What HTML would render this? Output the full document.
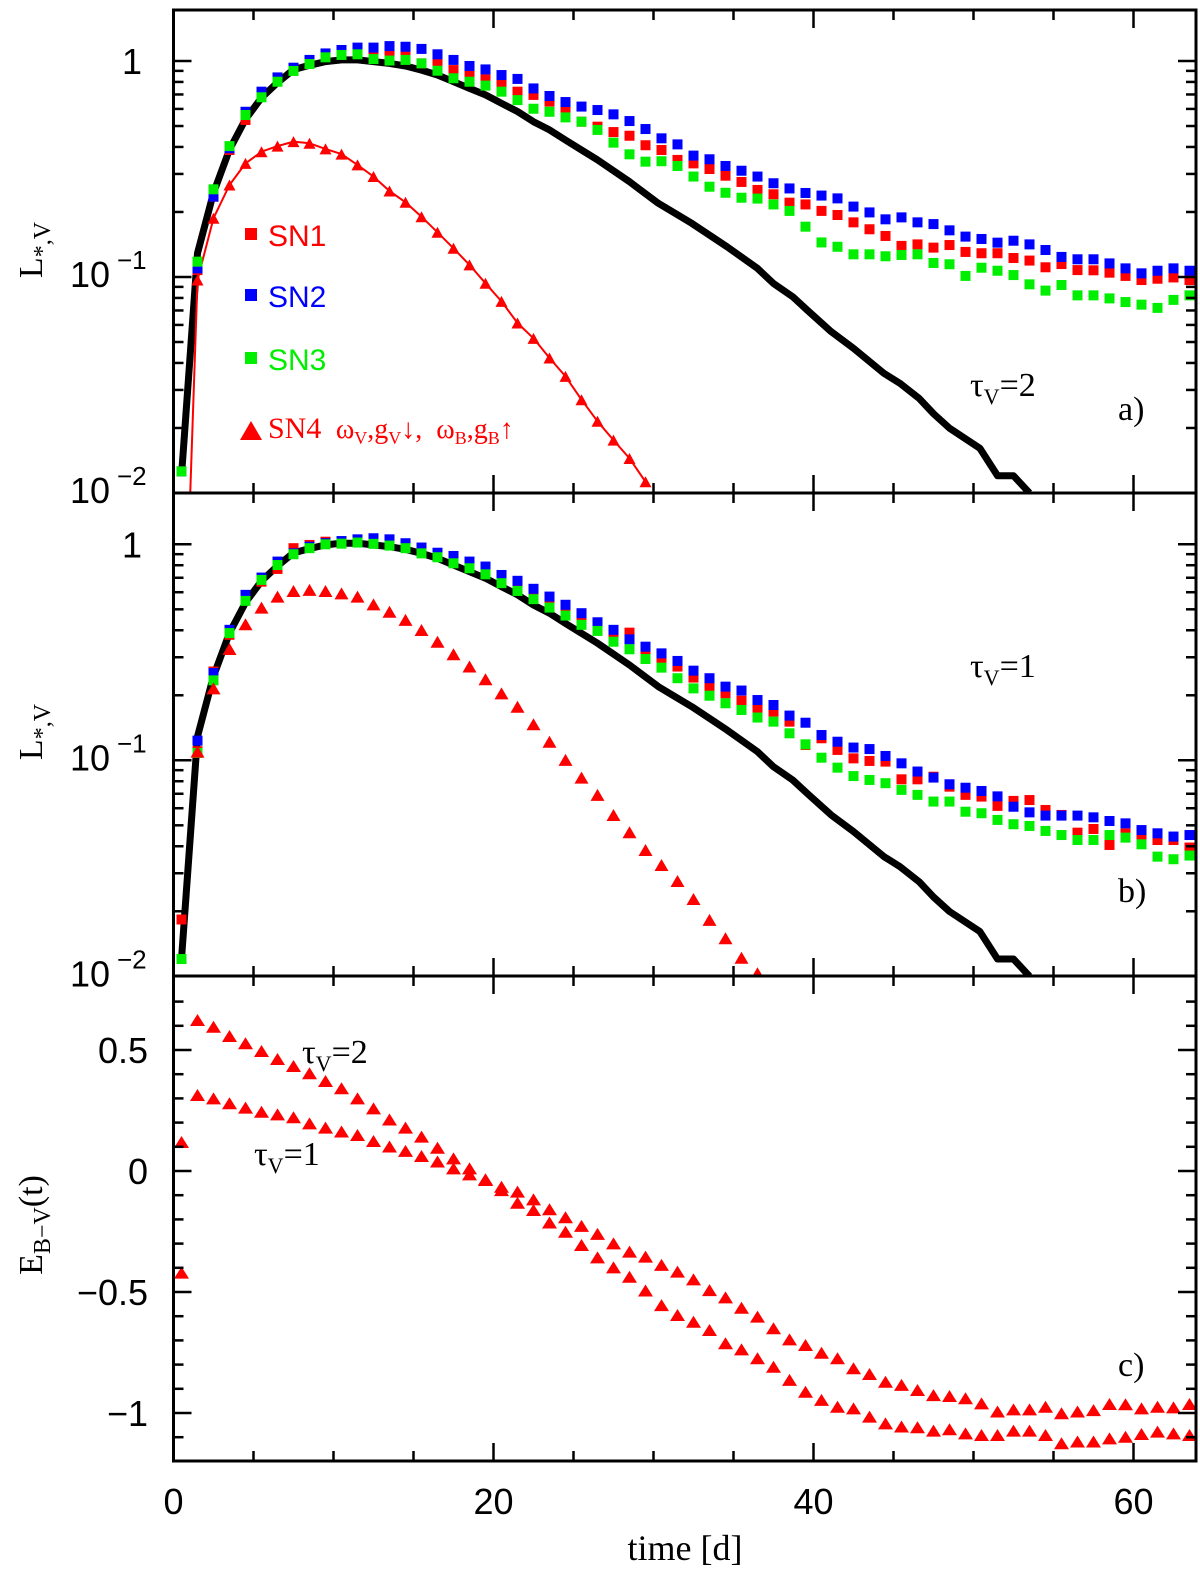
<!DOCTYPE html>
<html><head><meta charset="utf-8"><title>SN light curves</title>
<style>
html,body{margin:0;padding:0;background:#fff;}
svg{display:block;}
.tl{font-family:"Liberation Sans",sans-serif;font-size:36px;fill:#000;}
.sup{font-family:"Liberation Sans",sans-serif;font-size:26px;fill:#000;}
.ti{font-family:"Liberation Serif",serif;fill:#000;}
</style></head>
<body>
<svg id="chart" width="1200" height="1570" viewBox="0 0 1200 1570" xmlns="http://www.w3.org/2000/svg">
<defs>
<clipPath id="clipA"><rect x="173.5" y="10" width="1022.5" height="483"/></clipPath>
<clipPath id="clipB"><rect x="173.5" y="493" width="1022.5" height="483"/></clipPath>
<clipPath id="clipC"><rect x="173.5" y="976" width="1022.5" height="485"/></clipPath>
</defs>
<g id="gA"></g>
<g id="gB"></g>
<g id="gC"></g>
<g id="axes"></g>

<text class="ti" font-size="34" transform="translate(42,250) rotate(-90)" text-anchor="middle">L<tspan font-size="24" dy="8">*,V</tspan></text>
<text class="ti" font-size="34" transform="translate(42,732) rotate(-90)" text-anchor="middle">L<tspan font-size="24" dy="8">*,V</tspan></text>
<text class="ti" font-size="34" transform="translate(42,1225) rotate(-90)" text-anchor="middle">E<tspan font-size="24" dy="8">B−V</tspan><tspan dy="-8">(t)</tspan></text>
<text class="ti" font-size="36" x="685" y="1560" text-anchor="middle">time [d]</text>

<g>
<rect x="245" y="228" width="12" height="12" fill="#ff0000"/>
<text class="tl" x="268" y="246" font-size="30" fill="#ff0000" style="fill:#ff0000;font-size:30px">SN1</text>
<rect x="245" y="289" width="12" height="12" fill="#0000ff"/>
<text class="tl" x="268" y="307" style="fill:#0000ff;font-size:30px">SN2</text>
<rect x="245" y="352" width="12" height="12" fill="#00ee00"/>
<text class="tl" x="268" y="370" style="fill:#00ee00;font-size:30px">SN3</text>
<polygon points="243,439 251,424 259,439" fill="#ff0000"/>
<polygon points="240,440 251,421 262,440" fill="#ff0000"/>
<text class="ti" x="268" y="438" style="fill:#ff0000;font-size:30px">SN4 <tspan font-size="28">&#160;ω</tspan><tspan font-size="18" dy="6">V</tspan><tspan dy="-6" font-size="28">,g</tspan><tspan font-size="18" dy="6">V</tspan><tspan dy="-6" font-size="28">↓, &#160;ω</tspan><tspan font-size="18" dy="6">B</tspan><tspan dy="-6" font-size="28">,g</tspan><tspan font-size="18" dy="6">B</tspan><tspan dy="-6" font-size="28">↑</tspan></text>
</g>

<text class="ti" x="970" y="396" font-size="34">τ<tspan font-size="22" dy="8">V</tspan><tspan dy="-8">=2</tspan></text>
<text class="ti" x="1118" y="420" font-size="34">a)</text>
<text class="ti" x="970" y="677" font-size="34">τ<tspan font-size="22" dy="8">V</tspan><tspan dy="-8">=1</tspan></text>
<text class="ti" x="1118" y="902" font-size="34">b)</text>
<text class="ti" x="302" y="1063" font-size="34">τ<tspan font-size="22" dy="8">V</tspan><tspan dy="-8">=2</tspan></text>
<text class="ti" x="254" y="1165" font-size="34">τ<tspan font-size="22" dy="8">V</tspan><tspan dy="-8">=1</tspan></text>
<text class="ti" x="1118" y="1376" font-size="34">c)</text>
</svg>
<script>
// ---- data ----
const tDays = [0.5,1.5,2.5,3.5,4.5,5.5,6.5,7.5,8.5,9.5,10.5,11.5,12.5,13.5,14.5,15.5,16.5,17.5,18.5,19.5,20.5,21.5,22.5,23.5,24.5,25.5,26.5,27.5,28.5,29.5,30.5,31.5,32.5,33.5,34.5,35.5,36.5,37.5,38.5,39.5,40.5,41.5,42.5,43.5,44.5,45.5,46.5,47.5,48.5,49.5,50.5,51.5,52.5,53.5,54.5,55.5,56.5,57.5,58.5,59.5,60.5,61.5,62.5,63.5];
// black (no-dust) curve, log10 L
const blackT = [0.5,1.5,2.5,3.5,4.5,5.5,6.5,7.5,8.5,9.5,10.5,11.5,12.5,13.5,14.5,15.5,16.5,17.5,18.5,19.5,20.5,21.5,22.5,23.5,24.5,25.5,26.5,28.5,30.3,32.4,34.6,36.5,37.5,38.7,39.6,41.1,42.5,44.4,45.4,46.6,47.5,48.5,50.4,51.5,52.5,53.5];
const blackLog = [-1.92,-0.89,-0.61,-0.41,-0.27,-0.17,-0.10,-0.04,-0.02,-0.003,0.005,0.005,-0.003,-0.011,-0.023,-0.042,-0.065,-0.096,-0.127,-0.157,-0.196,-0.234,-0.281,-0.319,-0.366,-0.412,-0.458,-0.559,-0.659,-0.752,-0.86,-0.96,-1.03,-1.091,-1.153,-1.253,-1.33,-1.446,-1.492,-1.562,-1.633,-1.70,-1.793,-1.92,-1.92,-2.0];
// panel a (tau_V = 2), log10 L
const sn1LogA = [-1.90,-0.968,-0.628,-0.412,-0.273,-0.157,-0.088,-0.039,-0.005,0.023,0.035,0.048,0.035,0.035,0.028,-0.011,-0.014,-0.042,-0.069,-0.085,-0.111,-0.142,-0.157,-0.188,-0.235,-0.281,-0.304,-0.329,-0.346,-0.390,-0.412,-0.458,-0.474,-0.500,-0.531,-0.560,-0.597,-0.617,-0.656,-0.664,-0.694,-0.713,-0.747,-0.779,-0.810,-0.856,-0.849,-0.864,-0.852,-0.884,-0.890,-0.890,-0.912,-0.924,-0.955,-0.940,-0.968,-0.969,-0.980,-0.995,-1.014,-1.008,-1.002,-1.014];
const sn2LogA = [-1.90,-0.96,-0.628,-0.404,-0.235,-0.142,-0.076,-0.031,0.005,0.035,0.051,0.062,0.062,0.069,0.066,0.056,0.031,0.005,-0.023,-0.039,-0.065,-0.083,-0.127,-0.162,-0.190,-0.211,-0.227,-0.247,-0.278,-0.315,-0.358,-0.386,-0.438,-0.455,-0.486,-0.508,-0.535,-0.566,-0.590,-0.611,-0.623,-0.636,-0.674,-0.701,-0.733,-0.724,-0.747,-0.755,-0.784,-0.813,-0.824,-0.841,-0.832,-0.849,-0.875,-0.907,-0.918,-0.918,-0.937,-0.960,-0.983,-0.971,-0.960,-0.971];
const sn3LogA = [-1.90,-0.929,-0.594,-0.394,-0.25,-0.168,-0.096,-0.046,-0.014,0.017,0.028,0.031,0.009,0.002,0.005,-0.011,-0.045,-0.080,-0.096,-0.114,-0.142,-0.181,-0.221,-0.235,-0.261,-0.281,-0.319,-0.378,-0.432,-0.466,-0.464,-0.486,-0.535,-0.582,-0.610,-0.633,-0.637,-0.664,-0.694,-0.767,-0.840,-0.860,-0.895,-0.895,-0.904,-0.898,-0.895,-0.935,-0.941,-0.995,-0.957,-0.971,-0.991,-1.034,-1.063,-1.037,-1.085,-1.085,-1.099,-1.116,-1.128,-1.143,-1.106,-1.085];
const sn4TA = [1.5,2.5,3.5,4.5,5.5,6.5,7.5,8.5,9.5,10.5,11.5,12.5,13.5,14.5,15.5,16.5,17.5,18.5,19.5,20.5,21.5,22.5,23.5,24.5,25.5,26.5,27.5,28.5,29.5];
const sn4LogA = [-1.014,-0.728,-0.574,-0.474,-0.420,-0.394,-0.373,-0.381,-0.407,-0.431,-0.481,-0.535,-0.602,-0.654,-0.721,-0.793,-0.867,-0.944,-1.029,-1.113,-1.213,-1.284,-1.375,-1.460,-1.568,-1.668,-1.755,-1.840,-1.948];
const sn4LineStart = [1.0,-2.1];
// panel b (tau_V = 1), log10 L
const sn1LogB = [-1.737,-0.958,-0.589,-0.419,-0.250,-0.173,-0.114,-0.018,-0.003,0.012,0.005,0.012,0.005,-0.003,-0.015,-0.034,-0.057,-0.080,-0.103,-0.134,-0.165,-0.208,-0.234,-0.280,-0.314,-0.350,-0.396,-0.427,-0.409,-0.489,-0.528,-0.566,-0.617,-0.664,-0.690,-0.724,-0.764,-0.775,-0.821,-0.929,-0.898,-0.952,-0.991,-1.003,-1.006,-1.088,-1.088,-1.076,-1.122,-1.160,-1.168,-1.211,-1.188,-1.184,-1.230,-1.253,-1.335,-1.318,-1.392,-1.338,-1.366,-1.369,-1.369,-1.404];
const sn2LogB = [-1.92,-0.909,-0.596,-0.396,-0.234,-0.154,-0.080,-0.042,-0.011,0.005,0.015,0.023,0.028,0.023,0.005,-0.015,-0.039,-0.054,-0.080,-0.103,-0.142,-0.169,-0.206,-0.242,-0.280,-0.319,-0.361,-0.396,-0.440,-0.474,-0.505,-0.540,-0.585,-0.620,-0.659,-0.677,-0.721,-0.744,-0.793,-0.826,-0.883,-0.914,-0.941,-0.948,-0.980,-1.014,-1.052,-1.080,-1.111,-1.127,-1.142,-1.167,-1.215,-1.241,-1.256,-1.256,-1.256,-1.264,-1.281,-1.292,-1.323,-1.338,-1.353,-1.346];
const sn3LogB = [-1.92,-0.966,-0.630,-0.411,-0.262,-0.165,-0.096,-0.046,-0.018,0.0,0.003,0.008,0.002,-0.006,-0.018,-0.042,-0.060,-0.088,-0.111,-0.139,-0.180,-0.216,-0.254,-0.293,-0.330,-0.373,-0.401,-0.451,-0.486,-0.531,-0.571,-0.620,-0.667,-0.701,-0.736,-0.767,-0.802,-0.821,-0.875,-0.926,-0.988,-1.034,-1.073,-1.091,-1.106,-1.137,-1.160,-1.191,-1.191,-1.238,-1.245,-1.276,-1.296,-1.304,-1.327,-1.346,-1.369,-1.369,-1.346,-1.358,-1.389,-1.446,-1.458,-1.441];
const sn4TB = [1.5,2.5,3.5,4.5,5.5,6.5,7.5,8.5,9.5,10.5,11.5,12.5,13.5,14.5,15.5,16.5,17.5,18.5,19.5,20.5,21.5,22.5,23.5,24.5,25.5,26.5,27.5,28.5,29.5,30.5,31.5,32.5,33.5,34.5,35.5,36.5];
const sn4LogB = [-0.960,-0.667,-0.485,-0.370,-0.293,-0.242,-0.216,-0.211,-0.216,-0.227,-0.242,-0.278,-0.312,-0.350,-0.397,-0.451,-0.509,-0.566,-0.625,-0.690,-0.752,-0.833,-0.914,-0.998,-1.080,-1.160,-1.253,-1.333,-1.415,-1.485,-1.559,-1.642,-1.739,-1.824,-1.914,-1.986];
// panel c, E(B-V)
const ebvTau2 = [0.12,0.624,0.596,0.558,0.528,0.496,0.463,0.434,0.404,0.372,0.342,0.300,0.259,0.213,0.179,0.142,0.096,0.052,0.011,-0.034,-0.065,-0.085,-0.117,-0.158,-0.191,-0.227,-0.260,-0.299,-0.333,-0.354,-0.388,-0.416,-0.448,-0.492,-0.522,-0.565,-0.602,-0.650,-0.696,-0.719,-0.751,-0.774,-0.815,-0.839,-0.871,-0.884,-0.905,-0.926,-0.930,-0.939,-0.960,-0.994,-0.985,-0.985,-0.974,-1.001,-0.994,-0.988,-0.963,-0.964,-0.981,-0.974,-0.977,-0.963];
const ebvTau1 = [-0.42,0.314,0.300,0.280,0.262,0.245,0.234,0.222,0.197,0.179,0.163,0.149,0.124,0.101,0.083,0.062,0.039,0.011,-0.014,-0.037,-0.079,-0.131,-0.161,-0.213,-0.251,-0.306,-0.357,-0.398,-0.437,-0.494,-0.554,-0.595,-0.623,-0.657,-0.712,-0.737,-0.774,-0.809,-0.863,-0.912,-0.946,-0.974,-0.981,-1.015,-1.043,-1.056,-1.059,-1.073,-1.067,-1.084,-1.091,-1.091,-1.073,-1.073,-1.091,-1.125,-1.118,-1.118,-1.105,-1.098,-1.087,-1.077,-1.084,-1.091];
const xTickLabels = ["0","20","40","60"];
const xTickVals = [0,20,40,60];
const cTickVals = [0.5,0,-0.5,-1];
const cTickLabels = ["0.5","0","−0.5","−1"];

// ---- axes functions ----
const X0 = 173.5, XR = 1196, PX = 16.0;
const x = t => X0 + t * PX;
const yA = lg => 61 - lg * 216;
const yB = lg => 544.3 - lg * 216;
const yC = e => 1171 - e * 242;
const NS = "http://www.w3.org/2000/svg";
function mk(tag, attrs, parent) {
  const el = document.createElementNS(NS, tag);
  for (const k in attrs) el.setAttribute(k, attrs[k]);
  parent.appendChild(el);
  return el;
}
const COL = {sn1:"#ff0000", sn2:"#0000ff", sn3:"#00ee00"};

function squares(g, ts, vals, yf, color, name) {
  const grp = mk("g", {}, g);
  
  
  vals.forEach((v, i) => {
    const r = mk("rect", {x: x(ts[i]) - 5, y: yf(v) - 5, width: 10, height: 10, fill: color}, grp);
    
    
  });
}
function triangles(g, ts, vals, yf, name, w, h) {
  const grp = mk("g", {}, g);
  
  
  vals.forEach((v, i) => {
    const cx = x(ts[i]), cy = yf(v);
    const p = mk("polygon", {points: `${cx - w/2},${cy + h/2} ${cx},${cy - h/2} ${cx + w/2},${cy + h/2}`, fill: "#ff0000"}, grp);
    
    
  });
}
function line(g, ts, vals, yf, color, width, name) {
  const d = vals.map((v, i) => (i ? "L" : "M") + x(ts[i]).toFixed(1) + "," + yf(v).toFixed(1)).join("");
  const p = mk("path", {d: d, fill: "none", stroke: color, "stroke-width": width, "stroke-linejoin": "round"}, g);
  
  
  return p;
}

// ---- panel a ----
const gA = document.getElementById("gA");
const cA = mk("g", {"clip-path": "url(#clipA)"}, gA);
line(cA, blackT, blackLog, yA, "#000", 7, "no-dust-curve-a");
line(cA, [sn4LineStart[0]].concat(sn4TA), [sn4LineStart[1]].concat(sn4LogA), yA, "#ff0000", 2, "sn4-line-a");
squares(cA, tDays, sn1LogA, yA, COL.sn1, "sn1-series-a");
squares(cA, tDays, sn2LogA, yA, COL.sn2, "sn2-series-a");
squares(cA, tDays, sn3LogA, yA, COL.sn3, "sn3-series-a");
triangles(cA, sn4TA, sn4LogA, yA, "sn4-series-a", 12, 11);

// ---- panel b ----
const gB = document.getElementById("gB");
const cB = mk("g", {"clip-path": "url(#clipB)"}, gB);
line(cB, blackT, blackLog, yB, "#000", 7, "no-dust-curve-b");
squares(cB, tDays, sn1LogB, yB, COL.sn1, "sn1-series-b");
squares(cB, tDays, sn2LogB, yB, COL.sn2, "sn2-series-b");
squares(cB, tDays, sn3LogB, yB, COL.sn3, "sn3-series-b");
triangles(cB, sn4TB, sn4LogB, yB, "sn4-series-b", 14, 12);

// ---- panel c ----
const gC = document.getElementById("gC");
const cC = mk("g", {"clip-path": "url(#clipC)"}, gC);
triangles(cC, tDays, ebvTau2, yC, "ebv-tau2-series", 15, 12);
triangles(cC, tDays, ebvTau1, yC, "ebv-tau1-series", 15, 12);

// ---- axes, ticks ----
const ax = document.getElementById("axes");
const frames = [[10,493],[493,976],[976,1461]];
frames.forEach((f, k) => {
  const r = mk("rect", {x: X0, y: f[0], width: XR - X0, height: f[1] - f[0], fill: "none", stroke: "#000", "stroke-width": 3}, ax);
  
  
  for (let t = 0; t <= 63; t += 5) {
    const L = (t % 20 === 0) ? 18 : 10;
    mk("line", {x1: x(t), x2: x(t), y1: f[1], y2: f[1] - L, stroke: "#000", "stroke-width": 2.5}, ax);
    mk("line", {x1: x(t), x2: x(t), y1: f[0], y2: f[0] + L, stroke: "#000", "stroke-width": 2.5}, ax);
  }
});
function yTick(y, L) {
  mk("line", {x1: X0, x2: X0 + L, y1: y, y2: y, stroke: "#000", "stroke-width": 2.5}, ax);
  mk("line", {x1: XR, x2: XR - L, y1: y, y2: y, stroke: "#000", "stroke-width": 2.5}, ax);
}
[yA, yB].forEach((yf, k) => {
  const top = k ? 493 : 10, bot = k ? 976 : 493;
  for (let d = -2; d <= 0; d++) {
    for (let m = 1; m <= 9; m++) {
      const y = yf(d + Math.log10(m));
      if (y < top + 1 || y > bot - 1) continue;
      yTick(y, m === 1 ? 18 : 10);
    }
  }
  // tick labels
  const t1 = mk("text", {x: 142, y: yf(0) + 13, "text-anchor": "end", class: "tl"}, ax);
  t1.textContent = "1";
  
  
  [-1, -2].forEach(e => {
    const yy = yf(e);
    const t = mk("text", {x: 70, y: yy + 10, class: "tl"}, ax);
    t.textContent = "10";
    
    
    const s = mk("text", {x: 117, y: yy - 8, class: "sup"}, ax);
    s.textContent = "−" + (-e);
    
    
  });
});
for (let i = -11; i <= 7; i++) {
  const e = i / 10;
  yTick(yC(e), (i % 5 === 0) ? 18 : 10);
}
cTickVals.forEach((v, i) => {
  const t = mk("text", {x: 148, y: yC(v) + 13, "text-anchor": "end", class: "tl"}, ax);
  t.textContent = cTickLabels[i];
  
  
});
xTickVals.forEach((v, i) => {
  const t = mk("text", {x: x(v), y: 1514, "text-anchor": "middle", class: "tl"}, ax);
  t.textContent = xTickLabels[i];
  
  
});
</script>
</body></html>
